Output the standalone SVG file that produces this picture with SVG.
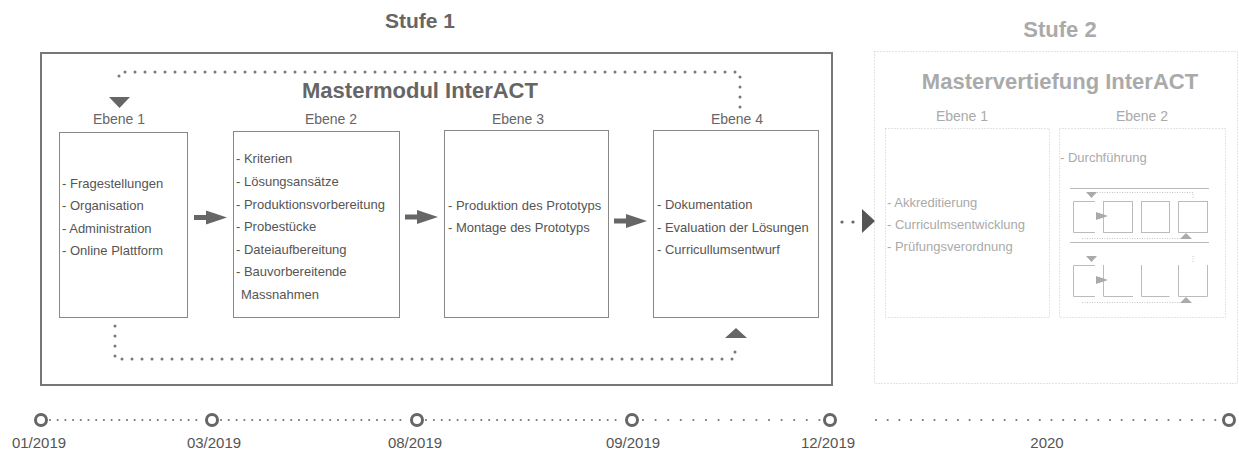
<svg xmlns="http://www.w3.org/2000/svg" width="1239" height="450" viewBox="0 0 1239 450">
<style>
text{font-family:"Liberation Sans",Arial,sans-serif}
.title{font-size:21px;font-weight:bold;fill:#666;text-anchor:middle}
.title2{font-size:22px;font-weight:bold;fill:#aaa;text-anchor:middle}
.lvl{font-size:14px;fill:#666;text-anchor:middle}
.lvl2{font-size:14px;fill:#aaa;text-anchor:middle}
.item{font-size:13px;fill:#555}
.item2{font-size:13px;fill:#aaa}
.box{fill:#fff;stroke:#888;stroke-width:1}
.dbox{fill:none;stroke:#c8c8c8;stroke-width:1;stroke-dasharray:1 2}
.loop{fill:none;stroke:#777;stroke-width:3;stroke-linecap:round;stroke-dasharray:0 10}
.tl{fill:none;stroke:#777;stroke-width:2.2;stroke-linecap:round}
.date{font-size:15px;fill:#555;text-anchor:middle}
.node{fill:#fff;stroke:#666;stroke-width:3}
.mini{fill:none;stroke:#bbb;stroke-width:1}
.minidot{fill:none;stroke:#c4c4c4;stroke-width:1;stroke-dasharray:1 1.5}
.mtri{fill:#aaa}
</style>
<defs>
<path id="bigArrow" d="M0,-2.5 H12 V-7 L33,0 L12,7 V2.5 H0 Z" fill="#666"/>
</defs>

<g id="stufe1">
<rect x="41" y="53" width="791" height="332" fill="none" stroke="#777" stroke-width="2"/>
<text class="title" x="420" y="28">Stufe 1</text>
<text class="title" x="420" y="98" style="font-size:22px">Mastermodul InterACT</text>
</g>

<g id="s1-ebene1">
<text class="lvl" x="119" y="124">Ebene 1</text>
<rect class="box" x="59.5" y="132.5" width="128" height="185"/>
<text class="item" x="62" y="188">- Fragestellungen</text>
<text class="item" x="62" y="210.3">- Organisation</text>
<text class="item" x="62" y="232.6">- Administration</text>
<text class="item" x="62" y="255">- Online Plattform</text>
</g>

<g id="s1-ebene2">
<text class="lvl" x="331" y="124">Ebene 2</text>
<rect class="box" x="233.5" y="131.5" width="166" height="186"/>
<text class="item" x="236" y="163">- Kriterien</text>
<text class="item" x="236" y="185.8">- Lösungsansätze</text>
<text class="item" x="236" y="208.5">- Produktionsvorbereitung</text>
<text class="item" x="236" y="231">- Probestücke</text>
<text class="item" x="236" y="253.5">- Dateiaufbereitung</text>
<text class="item" x="236" y="276">- Bauvorbereitende</text>
<text class="item" x="241" y="298.5">Massnahmen</text>
</g>

<g id="s1-ebene3">
<text class="lvl" x="518" y="124">Ebene 3</text>
<rect class="box" x="444.5" y="130.5" width="164" height="187"/>
<text class="item" x="448" y="209.5">- Produktion des Prototyps</text>
<text class="item" x="448" y="232">- Montage des Prototyps</text>
</g>

<g id="s1-ebene4">
<text class="lvl" x="737" y="124">Ebene 4</text>
<rect class="box" x="653.5" y="130.5" width="165" height="187"/>
<text class="item" x="657" y="209">- Dokumentation</text>
<text class="item" x="657" y="232">- Evaluation der Lösungen</text>
<text class="item" x="657" y="254">- Curricullumsentwurf</text>
</g>

<g id="connectors">
<use href="#bigArrow" x="194" y="217.5"/>
<use href="#bigArrow" x="405" y="217"/>
<use href="#bigArrow" x="614" y="221"/>
<path class="loop" d="M740,107 V72 H119 V86"/>
<polygon points="109,97 130,97 119.5,108" fill="#666"/>
<path class="loop" d="M115,326 V359 H735 V346"/>
<polygon points="725,338 747,338 736,328" fill="#666"/>
<circle cx="842" cy="222" r="1.6" fill="#666"/>
<circle cx="853" cy="222" r="1.6" fill="#666"/>
<polygon points="862,209 875,221 862,233" fill="#555"/>
</g>

<g id="stufe2">
<rect class="dbox" x="874.5" y="51.5" width="363" height="332"/>
<text class="title2" x="1060" y="37">Stufe 2</text>
<text class="title2" x="1060" y="89">Mastervertiefung InterACT</text>
</g>

<g id="s2-ebene1">
<text class="lvl2" x="962" y="121">Ebene 1</text>
<rect class="dbox" x="885.5" y="128.5" width="164" height="189"/>
<text class="item2" x="887" y="207">- Akkreditierung</text>
<text class="item2" x="887" y="229">- Curriculmsentwicklung</text>
<text class="item2" x="887" y="251">- Prüfungsverordnung</text>
</g>

<g id="s2-ebene2">
<text class="lvl2" x="1142" y="121">Ebene 2</text>
<rect class="dbox" x="1059.5" y="128.5" width="166" height="189"/>
<text class="item2" x="1060" y="162">- Durchführung</text>
<g id="mini-row1">
<line class="mini" x1="1070" y1="188.5" x2="1209" y2="188.5"/>
<path class="minidot" d="M1097,192.5 H1193 V198"/>
<polygon class="mtri" points="1086,192 1097,192 1091.5,198"/>
<path class="mini" d="M1095,201.5 H1073.5 V232.5 H1095"/>
<rect class="mini" x="1103.5" y="201.5" width="29" height="31"/>
<rect class="mini" x="1141.5" y="201.5" width="28" height="31"/>
<rect class="mini" x="1178.5" y="201.5" width="29" height="31"/>
<polygon class="mtri" points="1096,212 1108,216 1096,220"/>
<path class="minidot" d="M1082,238.5 H1180"/>
<polygon class="mtri" points="1180,239 1192,239 1186,233"/>
</g>
<g id="mini-row2">
<line class="mini" x1="1070" y1="242.5" x2="1209" y2="242.5"/>
<path class="minidot" d="M1193,256 V262"/>
<polygon class="mtri" points="1086,256 1097,256 1091.5,262"/>
<path class="mini" d="M1095,265.5 H1073.5 V296.5 H1095"/>
<path class="mini" d="M1103.5,265 V296.5 H1133"/>
<path class="mini" d="M1141.5,265 V296.5 H1169.5"/>
<path class="mini" d="M1178.5,265 V296.5 H1207.5 V265"/>
<polygon class="mtri" points="1096,276 1108,280 1096,284"/>
<path class="minidot" d="M1082,302.5 H1180"/>
<polygon class="mtri" points="1180,303 1192,303 1186,297"/>
</g>
</g>

<g id="timeline-lines">
<line class="tl" x1="50" y1="420" x2="203" y2="420" stroke-dasharray="0 7.7"/>
<line class="tl" x1="221" y1="420" x2="408" y2="420" stroke-dasharray="0 7.8"/>
<line class="tl" x1="426" y1="420" x2="623" y2="420" stroke-dasharray="0 7.9"/>
<line class="tl" x1="643" y1="420" x2="820" y2="420" stroke-dasharray="0 12.6"/>
<line class="tl" x1="876" y1="420" x2="1216" y2="420" stroke="#bbb" stroke-dasharray="0 11.7"/>
</g>
<g id="t-0119"><circle class="node" cx="41" cy="420" r="5.5"/><text class="date" x="39" y="448">01/2019</text></g>
<g id="t-0319"><circle class="node" cx="212" cy="420" r="5.5"/><text class="date" x="214" y="448">03/2019</text></g>
<g id="t-0819"><circle class="node" cx="417" cy="420" r="5.5"/><text class="date" x="415" y="448">08/2019</text></g>
<g id="t-0919"><circle class="node" cx="632" cy="420" r="5.5"/><text class="date" x="633" y="448">09/2019</text></g>
<g id="t-1219"><circle class="node" cx="830" cy="420" r="5.5"/><text class="date" x="828" y="448">12/2019</text></g>
<g id="t-2020"><circle class="node" cx="1229" cy="420" r="5.5" stroke="#aaa"/><text class="date" x="1047" y="448" fill="#bbb">2020</text></g>
</svg>
